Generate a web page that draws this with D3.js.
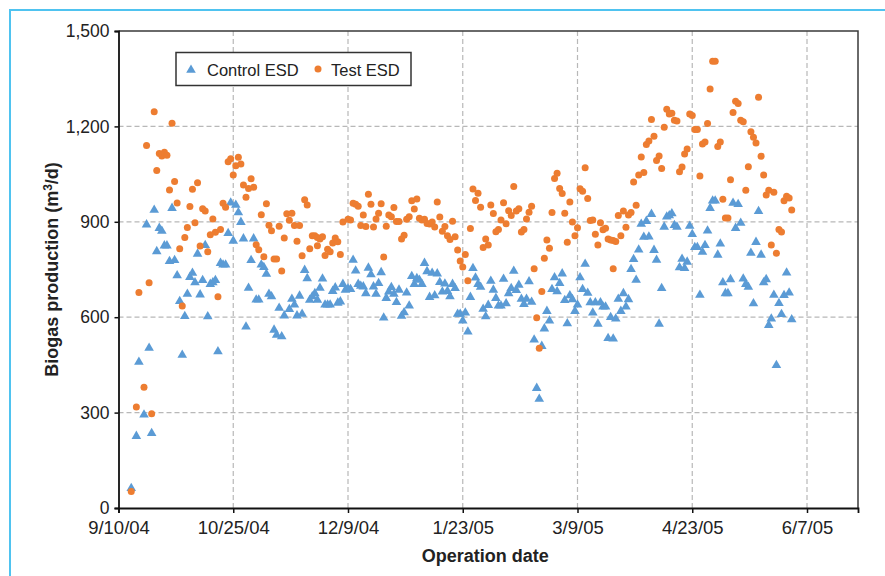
<!DOCTYPE html>
<html lang="en">
<head>
<meta charset="UTF-8">
<title>Biogas production</title>
<script src="https://d3js.org/d3.v7.min.js"></script>
<style>
  body { margin: 0; background: #fff; }
  svg { display: block; font-family: "Liberation Sans", Arial, sans-serif; }
</style>
</head>
<body>
<div id="chart"></div>
<script>
// days since 9/10/04, biogas in m3/d
const controlPoints = [
  [5,62],[7,226],[8,459],[10,293],[11,891],[12,503],[13,235],[14,937],[15,807],[16,880],
  [17,871],[18,825],[19,825],[20,776],[21,943],[22,779],[23,731],[24,650],[25,481],[26,603],
  [27,673],[28,726],[29,739],[30,709],[31,799],[32,671],[33,716],[34,826],[35,602],[36,704],
  [37,709],[38,716],[39,492],[40,770],[41,765],[42,765],[43,864],[44,960],[45,840],[46,953],
  [47,929],[48,899],[49,847],[50,570],[51,692],[52,779],[53,847],[54,655],[55,655],[56,765],
  [57,757],[58,736],[59,673],[60,665],[61,560],[62,544],[63,629],[64,539],[65,605],[67,625],
  [68,657],[69,639],[70,605],[71,667],[72,610],[73,748],[74,722],[75,654],[76,665],[77,675],
  [78,654],[79,692],[80,721],[81,639],[82,639],[83,639],[84,682],[85,693],[86,645],[87,649],
  [88,704],[89,686],[90,690],[91,688],[92,780],[93,746],[94,704],[95,698],[96,696],[97,675],
  [98,755],[99,734],[100,696],[101,673],[102,707],[103,741],[104,598],[105,660],[106,680],[107,694],
  [108,673],[109,647],[110,686],[111,604],[112,615],[113,677],[114,636],[115,729],[116,704],[117,722],
  [118,717],[119,704],[120,770],[121,744],[122,663],[123,739],[124,668],[125,737],[126,710],[127,680],
  [128,705],[129,682],[130,665],[131,704],[132,691],[133,610],[134,610],[135,589],[136,614],[137,554],
  [138,663],[139,754],[140,724],[141,704],[142,695],[143,626],[144,602],[145,638],[146,714],[147,686],
  [148,660],[149,636],[150,636],[151,720],[152,643],[153,675],[154,691],[155,745],[156,685],[157,701],
  [158,657],[159,641],[160,657],[161,712],[162,648],[163,529],[164,377],[165,343],[166,509],[167,564],
  [168,619],[169,589],[170,688],[171,725],[172,681],[173,707],[174,737],[175,653],[176,580],[177,668],
  [178,656],[179,619],[180,639],[181,725],[182,688],[183,767],[184,676],[185,646],[186,614],[187,646],
  [188,579],[189,646],[190,633],[191,633],[192,534],[193,600],[194,532],[195,595],[196,657],[197,619],
  [198,675],[199,633],[200,656],[201,751],[202,782],[203,717],[204,812],[205,893],[206,852],[207,902],
  [208,853],[209,924],[210,811],[211,780],[212,579],[213,691],[214,884],[215,916],[216,920],[217,926],
  [218,889],[219,884],[220,756],[221,783],[222,754],[223,774],[224,887],[225,861],[226,820],[227,820],
  [228,670],[229,805],[230,826],[231,872],[232,943],[233,966],[234,966],[235,796],[236,831],[237,709],
  [238,675],[239,675],[240,719],[241,959],[242,880],[243,955],[244,896],[245,721],[246,704],[247,695],
  [248,802],[249,643],[250,836],[251,933],[252,796],[253,709],[254,719],[255,575],[256,595],[257,670],
  [258,449],[259,644],[260,609],[261,669],[262,740],[263,677],[264,593]
];

const testPoints = [
  [5,52],[7,318],[8,678],[10,380],[11,1140],[12,708],[13,296],[14,1246],[15,1061],[16,1115],
  [17,1107],[18,1119],[19,1109],[20,1000],[21,1210],[22,1027],[23,959],[24,815],[25,635],[26,851],
  [27,882],[28,948],[29,1002],[30,897],[31,1023],[32,824],[33,941],[34,934],[35,806],[36,859],
  [37,909],[38,867],[39,664],[40,876],[41,958],[42,946],[43,1089],[44,1098],[45,1047],[46,1076],
  [47,1103],[48,1082],[49,1016],[50,977],[51,1005],[52,1035],[53,1009],[54,828],[55,812],[56,922],
  [57,790],[58,957],[59,889],[60,872],[61,783],[62,783],[63,886],[64,745],[65,849],[66,925],
  [67,905],[68,927],[69,888],[70,839],[71,888],[72,793],[73,969],[74,953],[75,815],[76,856],
  [77,856],[78,851],[78,825],[79,846],[80,853],[81,794],[82,814],[83,806],[84,833],[85,849],
  [86,837],[87,797],[88,899],[90,908],[91,906],[92,958],[93,955],[94,949],[95,888],[96,921],
  [97,885],[98,987],[99,955],[100,884],[101,909],[102,927],[103,957],[104,789],[105,886],[106,921],
  [107,916],[108,945],[109,901],[110,901],[111,846],[112,858],[113,908],[114,916],[115,966],[116,940],
  [117,972],[118,911],[119,906],[120,908],[121,895],[122,893],[123,899],[124,884],[125,962],[126,915],
  [127,870],[128,885],[129,856],[130,844],[131,902],[132,853],[133,811],[134,777],[135,758],[136,797],
  [137,715],[138,879],[139,1003],[140,967],[141,990],[142,946],[143,819],[144,846],[145,827],[146,953],
  [147,926],[148,869],[149,876],[150,906],[151,960],[152,894],[153,935],[154,920],[155,1011],[156,934],
  [157,941],[158,868],[159,876],[160,909],[161,930],[162,949],[163,752],[164,598],[165,502],[166,681],
  [167,785],[168,843],[169,817],[170,929],[171,1036],[172,1053],[173,1005],[174,989],[175,927],[176,836],
  [177,962],[178,899],[179,856],[180,881],[181,1004],[182,996],[183,1070],[184,973],[185,904],[186,906],
  [187,861],[188,827],[189,897],[190,875],[191,880],[192,846],[193,843],[194,841],[194,752],[195,838],
  [196,920],[197,856],[198,934],[199,883],[200,921],[201,929],[202,1025],[203,952],[204,1047],[205,1104],
  [206,1055],[207,1143],[208,1154],[209,1222],[210,1169],[211,1093],[212,1107],[213,1068],[214,1197],[215,1254],
  [216,1239],[217,1241],[218,1219],[219,1217],[220,1057],[221,1072],[222,1113],[223,1129],[224,1239],[225,1234],
  [226,1190],[227,1190],[228,1044],[229,1145],[230,1151],[231,1209],[232,1318],[233,1405],[234,1405],[235,1137],
  [236,1151],[237,971],[238,912],[239,912],[240,1032],[241,1244],[242,1279],[243,1272],[244,1219],[245,1215],
  [246,999],[247,1073],[248,1183],[249,1166],[250,1148],[251,1292],[252,1106],[253,1047],[254,984],[255,999],
  [256,827],[257,993],[258,801],[259,876],[260,868],[261,966],[262,980],[263,975],[264,937]
];

const startDate = Date.UTC(2004, 8, 10);
const endDate = Date.UTC(2005, 5, 27);
const dateTicks = [[2004,8,10],[2004,9,25],[2004,11,9],[2005,0,23],[2005,2,9],[2005,3,23],[2005,5,7]];
const yTicks = [0, 300, 600, 900, 1200, 1500];
const seriesNames = ["Control ESD", "Test ESD"];

const width = 885, height = 576;
const margin = { left: 118.5, top: 31, right: 858, bottom: 508 };

const toDate = d => new Date(startDate + d * 864e5);

const svg = d3.select("#chart").append("svg")
  .attr("width", width)
  .attr("height", height);

// outer frame of the figure
svg.append("rect")
  .attr("x", 10).attr("y", 10)
  .attr("width", 900).attr("height", 600)
  .attr("fill", "none")
  .attr("stroke", "#4fc3f0")
  .attr("stroke-width", 2);

const x = d3.scaleUtc()
  .domain([new Date(startDate), new Date(endDate)])
  .range([margin.left, margin.right]);

const y = d3.scaleLinear()
  .domain([0, 1500])
  .range([margin.bottom, margin.top]);

// grid
const grid = svg.append("g")
  .attr("stroke", "#b8b8b8")
  .attr("stroke-width", 1.2)
  .attr("stroke-dasharray", "5,3");

grid.selectAll(".hg")
  .data(yTicks.filter(v => v > 0 && v < 1500))
  .enter().append("line")
  .attr("x1", margin.left).attr("x2", margin.right)
  .attr("y1", d => y(d)).attr("y2", d => y(d));

grid.selectAll(".vg")
  .data(dateTicks.slice(1))
  .enter().append("line")
  .attr("x1", d => x(Date.UTC(...d))).attr("x2", d => x(Date.UTC(...d)))
  .attr("y1", margin.top).attr("y2", margin.bottom);

// top and right frame
svg.append("path")
  .attr("d", `M${margin.left},${margin.top}H${margin.right}V${margin.bottom}`)
  .attr("fill", "none")
  .attr("stroke", "#3a3a3a")
  .attr("stroke-width", 1.5);

// axes
const xAxis = svg.append("g")
  .attr("transform", `translate(0,${margin.bottom})`)
  .call(d3.axisBottom(x)
    .tickValues(dateTicks.map(d => new Date(Date.UTC(...d))))
    .tickFormat(d3.utcFormat("%-m/%-d/%y"))
    .tickSizeOuter(0)
    .tickSize(5)
    .tickPadding(8));

const yAxis = svg.append("g")
  .attr("transform", `translate(${margin.left},0)`)
  .call(d3.axisLeft(y)
    .tickValues(yTicks)
    .tickFormat(d3.format(","))
    .tickSizeOuter(0)
    .tickSize(4)
    .tickPadding(5));

[xAxis, yAxis].forEach(ax => {
  ax.select(".domain").attr("stroke", "#111").attr("stroke-width", 1.8);
  ax.selectAll(".tick line").attr("stroke", "#111").attr("stroke-width", 1.5);
  ax.selectAll(".tick text")
    .attr("fill", "#222")
    .style("font-family", "'Liberation Sans', Arial, sans-serif");
});
xAxis.selectAll(".tick text").style("font-size", "18.5px");
yAxis.selectAll(".tick text").style("font-size", "17.5px");

// axis titles
svg.append("text")
  .attr("x", (margin.left + margin.right) / 2 - 3)
  .attr("y", 562)
  .attr("text-anchor", "middle")
  .attr("font-weight", "bold")
  .attr("font-size", 18)
  .attr("fill", "#222")
  .text("Operation date");

const yt = svg.append("text")
  .attr("transform", `translate(58,${(margin.top + margin.bottom) / 2}) rotate(-90)`)
  .attr("text-anchor", "middle")
  .attr("font-weight", "bold")
  .attr("font-size", 18)
  .attr("fill", "#222");
yt.append("tspan").text("Biogas production (m");
yt.append("tspan").attr("dy", -6).attr("font-size", 12).text("3");
yt.append("tspan").attr("dy", 6).text("/d)");

// points
const tri = d3.symbol().type(d3.symbolTriangle).size(40);

svg.append("g").selectAll("path")
  .data(controlPoints)
  .enter().append("path")
  .attr("d", tri)
  .attr("transform", d => `translate(${x(toDate(d[0]))},${y(d[1])})`)
  .attr("fill", "#5b9bd5");

svg.append("g").selectAll("circle")
  .data(testPoints)
  .enter().append("circle")
  .attr("cx", d => x(toDate(d[0])))
  .attr("cy", d => y(d[1]))
  .attr("r", 3.5)
  .attr("fill", "#ed7d31");

// legend
const legend = svg.append("g");
legend.append("rect")
  .attr("x", 176).attr("y", 52.5)
  .attr("width", 235).attr("height", 33)
  .attr("fill", "#fff")
  .attr("stroke", "#333")
  .attr("stroke-width", 1.5);

legend.append("path")
  .attr("d", tri)
  .attr("transform", "translate(191,70)")
  .attr("fill", "#5b9bd5");
legend.append("text")
  .attr("x", 207).attr("y", 76)
  .attr("font-size", 16.5)
  .attr("fill", "#222")
  .text(seriesNames[0]);

legend.append("circle")
  .attr("cx", 318).attr("cy", 69)
  .attr("r", 3.5)
  .attr("fill", "#ed7d31");
legend.append("text")
  .attr("x", 331).attr("y", 76)
  .attr("font-size", 16.5)
  .attr("fill", "#222")
  .text(seriesNames[1]);
</script>
</body>
</html>
